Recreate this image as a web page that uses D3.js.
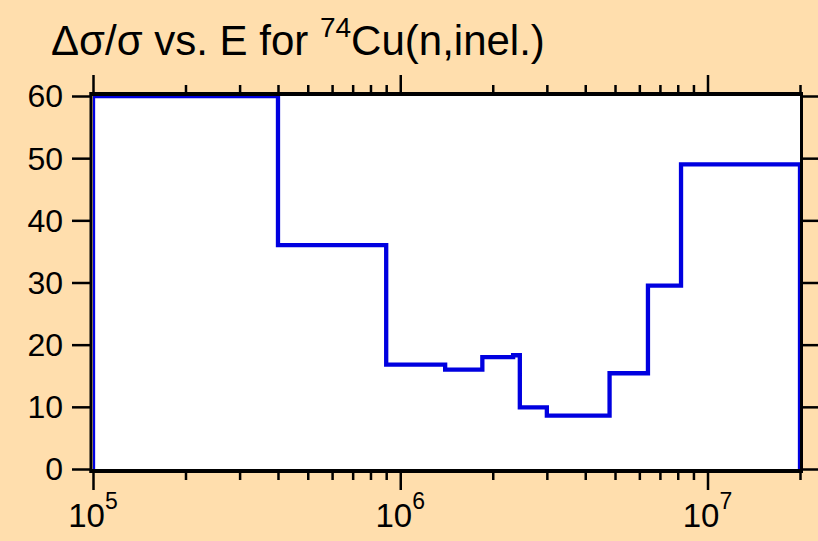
<!DOCTYPE html>
<html>
<head>
<meta charset="utf-8">
<script src="https://cdn.jsdelivr.net/npm/d3@7"></script>
<style>
  html, body { margin: 0; padding: 0; background: #FFDEAD; }
  svg { display: block; }
  text { font-family: "Liberation Sans", Arial, sans-serif; fill: #000; }
</style>
</head>
<body>
<svg id="chart" width="818" height="541"></svg>
<script>
// Bin edges (eV) and relative uncertainty values (%)
const binEdges = [1e5, 4e5, 9e5, 1.4e6, 1.85e6, 2.33e6, 2.45e6, 3e6, 4.8e6, 6.4e6, 8.2e6, 2e7];
const binValues = [60, 36, 16.8, 16.0, 18.0, 18.3, 9.9, 8.6, 15.4, 29.5, 49.0];
const yTickValues = [0, 10, 20, 30, 40, 50, 60];
const xMajorTicks = [1e5, 1e6, 1e7];
const xMajorExponents = ["5", "6", "7"];

const W = 818, H = 541;
const plot = { left: 93, right: 800, top: 96, bottom: 469 };

const svg = d3.select("#chart");
svg.append("rect").attr("width", W).attr("height", H).attr("fill", "#FFDEAD");

const x = d3.scaleLog().domain([1e5, 2e7]).range([plot.left, plot.right]);
const y = d3.scaleLinear().domain([0, 60]).range([plot.bottom, plot.top]);

// plot area
svg.append("rect")
  .attr("x", plot.left).attr("y", plot.top)
  .attr("width", plot.right - plot.left).attr("height", plot.bottom - plot.top)
  .attr("fill", "#fff");

svg.append("clipPath").attr("id", "clip")
  .append("rect")
  .attr("x", plot.left).attr("y", plot.top)
  .attr("width", plot.right - plot.left).attr("height", plot.bottom - plot.top);

// histogram outline
const pts = [[binEdges[0], 0]];
binValues.forEach((v, i) => pts.push([binEdges[i], v]));
pts.push([binEdges[binEdges.length - 1], binValues[binValues.length - 1]]);
pts.push([binEdges[binEdges.length - 1], 0]);

const line = d3.line().x(d => x(d[0])).y(d => y(d[1])).curve(d3.curveStepAfter);
svg.append("path")
  .attr("clip-path", "url(#clip)")
  .attr("d", line(pts))
  .attr("fill", "none")
  .attr("stroke", "#0000e0")
  .attr("stroke-width", 4.3)
  .attr("stroke-linejoin", "miter");

// x ticks: majors and minors
const minorTicks = [];
[1e5, 1e6, 1e7].forEach(d => {
  for (let k = 2; k <= 9; k++) { const v = d * k; if (v <= 2e7) minorTicks.push(v); }
});

function styleAxis(g, width) {
  g.select(".domain").remove();
  g.selectAll(".tick line").attr("stroke", "#000").attr("stroke-width", width);
}

// bottom axis
const bottomY = 471;
svg.append("g").attr("transform", `translate(0,${bottomY})`)
  .call(d3.axisBottom(x).tickValues(xMajorTicks).tickSize(19).tickFormat(""))
  .call(g => styleAxis(g, 2.5));
svg.append("g").attr("transform", `translate(0,${bottomY})`)
  .call(d3.axisBottom(x).tickValues(minorTicks).tickSize(9).tickFormat(""))
  .call(g => styleAxis(g, 2.5));

// top axis
const topY = 94;
svg.append("g").attr("transform", `translate(0,${topY})`)
  .call(d3.axisTop(x).tickValues(xMajorTicks).tickSize(19).tickFormat(""))
  .call(g => styleAxis(g, 2.5));
svg.append("g").attr("transform", `translate(0,${topY})`)
  .call(d3.axisTop(x).tickValues(minorTicks).tickSize(9).tickFormat(""))
  .call(g => styleAxis(g, 2.5));

// left axis
const leftX = 91;
svg.append("g").attr("transform", `translate(${leftX},0)`)
  .call(d3.axisLeft(y).tickValues(yTickValues).tickSize(19).tickPadding(9).tickFormat(d3.format("d")))
  .call(g => {
    styleAxis(g, 2.5);
    g.selectAll(".tick text").attr("font-size", 32).attr("dy", "0.34em").attr("font-family", "Liberation Sans, Arial, sans-serif").attr("fill", "#000");
  });

// right axis
const rightX = 801.5;
svg.append("g").attr("transform", `translate(${rightX},0)`)
  .call(d3.axisRight(y).tickValues(yTickValues).tickSize(19).tickFormat(""))
  .call(g => styleAxis(g, 2.5));

// frame lines
svg.append("line").attr("x1", plot.left - 3.5).attr("x2", plot.right + 3).attr("y1", bottomY).attr("y2", bottomY)
  .attr("stroke", "#000").attr("stroke-width", 4);
svg.append("line").attr("x1", plot.left - 3.5).attr("x2", plot.right + 3).attr("y1", topY).attr("y2", topY)
  .attr("stroke", "#000").attr("stroke-width", 4);
svg.append("line").attr("x1", leftX).attr("x2", leftX).attr("y1", topY - 2).attr("y2", bottomY + 2)
  .attr("stroke", "#000").attr("stroke-width", 3);
svg.append("line").attr("x1", rightX).attr("x2", rightX).attr("y1", topY - 2).attr("y2", bottomY + 2)
  .attr("stroke", "#000").attr("stroke-width", 3);

// x labels 10^n
xMajorTicks.forEach((v, i) => {
  const t = svg.append("text")
    .attr("x", x(v)).attr("y", 527)
    .attr("text-anchor", "middle")
    .attr("font-size", 33);
  t.append("tspan").text("10");
  t.append("tspan").attr("font-size", 23).attr("dy", -18).text(xMajorExponents[i]);
});

// title
const title = svg.append("text").attr("x", 51).attr("y", 55).attr("font-size", 42);
title.append("tspan").text("\u0394\u03c3/\u03c3 vs. E for ");
title.append("tspan").attr("font-size", 28).attr("dy", -18).text("74");
title.append("tspan").attr("dy", 18).text("Cu(n,inel.)");
</script>
</body>
</html>
